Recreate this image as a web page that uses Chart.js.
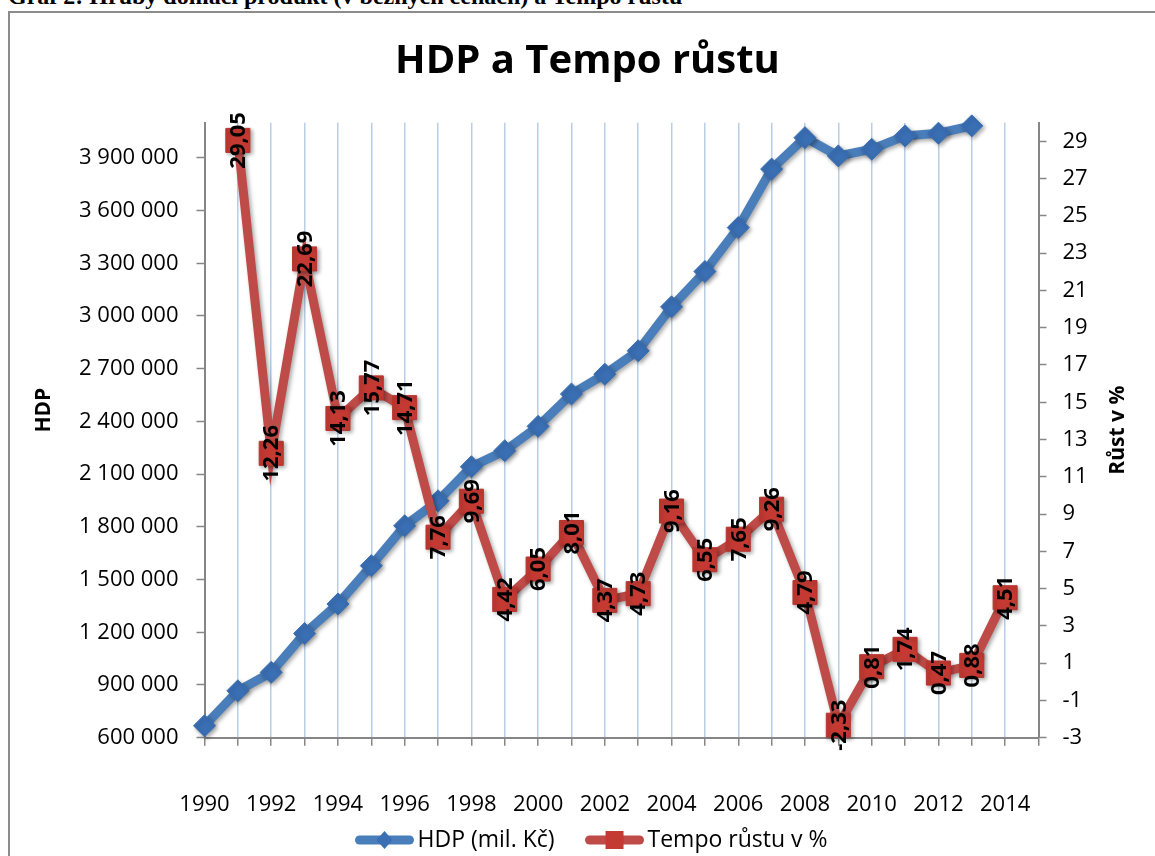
<!DOCTYPE html>
<html><head><meta charset="utf-8">
<script src="https://cdn.jsdelivr.net/npm/chart.js@4.4.0/dist/chart.umd.min.js"></script>
<style>
html,body{margin:0;padding:0;background:#fff;overflow:hidden;width:1155px;height:856px;}
#cap{position:absolute;left:8px;top:-17px;font:bold 24px "Liberation Serif","Times New Roman",serif;white-space:nowrap;color:#000;line-height:27px;}
#frame{position:absolute;left:8px;top:11px;width:1200px;height:900px;border-left:2px solid #8c8c8c;border-top:2px solid #8c8c8c;}
#wrap{position:absolute;left:0;top:0;width:1155px;height:856px;}
</style></head><body>
<div id="cap">Graf 2: Hrubý domácí produkt (v běžných cenách) a Tempo růstu</div>
<div id="frame"></div>
<div id="wrap"><canvas id="c" width="1155" height="856"></canvas></div>
<script>
// ---- data ----
const hdpYears = [1990,1991,1992,1993,1994,1995,1996,1997,1998,1999,2000,2001,2002,2003,2004,2005,2006,2007,2008,2009,2010,2011,2012,2013];
const hdpValues = [668000,867000,972000,1193000,1361000,1579000,1806000,1948000,2142000,2233000,2372000,2556000,2669000,2802000,3052000,3253000,3503000,3836000,4015000,3911000,3949000,4025000,4040000,4082000];
const tempoYears = [1991,1992,1993,1994,1995,1996,1997,1998,1999,2000,2001,2002,2003,2004,2005,2006,2007,2008,2009,2010,2011,2012,2013,2014];
const tempoValues = [29.05,12.26,22.69,14.13,15.77,14.71,7.76,9.69,4.42,6.05,8.01,4.37,4.73,9.16,6.55,7.65,9.26,4.79,-2.33,0.81,1.74,0.47,0.88,4.51];
const xTicks = [1990,1991,1992,1993,1994,1995,1996,1997,1998,1999,2000,2001,2002,2003,2004,2005,2006,2007,2008,2009,2010,2011,2012,2013,2014,2015];
const xLabelYears = [1990,1992,1994,1996,1998,2000,2002,2004,2006,2008,2010,2012,2014];
const leftTicks = [600000,900000,1200000,1500000,1800000,2100000,2400000,2700000,3000000,3300000,3600000,3900000];
const rightTicks = [-3,-1,1,3,5,7,9,11,13,15,17,19,21,23,25,27,29];
const seriesNames = ['HDP (mil. Kč)','Tempo růstu v %'];
const chartTitle = 'HDP a Tempo růstu';
const leftTitle = 'HDP';
const rightTitle = 'Růst v %';

const FONT = '"Open Sans", "DejaVu Sans", sans-serif';
const GREY = '#868686';
const fmtThousands = v => String(v).replace(/\B(?=(\d{3})+(?!\d))/g, ' ');
const fmtPct = v => v.toFixed(2).replace('.', ',');

const shadowPlugin = {
  id: 'shadow',
  beforeDatasetDraw(chart) {
    const c = chart.ctx; c.save();
    c.shadowColor = 'rgba(0,0,0,0.35)'; c.shadowBlur = 4; c.shadowOffsetX = 2; c.shadowOffsetY = 2;
  },
  afterDatasetDraw(chart) { chart.ctx.restore(); }
};

const labelsPlugin = {
  id: 'pctLabels',
  afterDatasetsDraw(chart) {
    const ctx = chart.ctx;
    const meta = chart.getDatasetMeta(1);
    ctx.save();
    ctx.font = 'bold 22px ' + FONT;
    ctx.fillStyle = '#000';
    ctx.textAlign = 'center';
    ctx.textBaseline = 'middle';
    meta.data.forEach((pt, i) => {
      ctx.save();
      ctx.translate(pt.x, pt.y);
      ctx.rotate(-Math.PI / 2);
      ctx.fillText(fmtPct(tempoValues[i]), 0, 1);
      ctx.restore();
    });
    ctx.restore();
  }
};

const axisTitlesPlugin = {
  id: 'axisTitles',
  afterDraw(chart) {
    const ctx = chart.ctx, a = chart.chartArea;
    ctx.save();
    ctx.font = 'bold 21px ' + FONT;
    ctx.fillStyle = '#000';
    ctx.textAlign = 'center';
    ctx.textBaseline = 'middle';
    ctx.save(); ctx.translate(44, (a.top + a.bottom) / 2 - 20); ctx.rotate(-Math.PI / 2); ctx.fillText(leftTitle, 0, 0); ctx.restore();
    ctx.save(); ctx.translate(1118, (a.top + a.bottom) / 2); ctx.rotate(-Math.PI / 2); ctx.fillText(rightTitle, 0, 0); ctx.restore();
    ctx.restore();
  }
};

const legendPlugin = {
  id: 'customLegend',
  afterDraw(chart) {
    const ctx = chart.ctx;
    ctx.save();
    ctx.font = '23px ' + FONT;
    const ds = chart.data.datasets;
    const lineW = 60, gapT = 3, gapI = 30;
    const widths = ds.map(d => lineW + gapT + ctx.measureText(d.label).width);
    const total = widths.reduce((p, q) => p + q, 0) + gapI * (ds.length - 1);
    let x = 591 - total / 2;
    const y = 840;
    ds.forEach((d, i) => {
      ctx.strokeStyle = d.borderColor; ctx.lineWidth = 9; ctx.lineCap = 'round';
      ctx.beginPath(); ctx.moveTo(x + 5, y); ctx.lineTo(x + lineW - 5, y); ctx.stroke();
      ctx.fillStyle = d.pointBackgroundColor;
      const cx = x + lineW / 2;
      ctx.beginPath();
      if (d.pointStyle === 'rectRot') {
        ctx.moveTo(cx, y - 9); ctx.lineTo(cx + 8, y); ctx.lineTo(cx, y + 9); ctx.lineTo(cx - 8, y); ctx.closePath();
      } else {
        ctx.rect(cx - 9, y - 9, 18, 18);
      }
      ctx.fill();
      ctx.fillStyle = '#000'; ctx.textAlign = 'left'; ctx.textBaseline = 'middle';
      ctx.fillText(d.label, x + lineW + gapT, y);
      x += widths[i] + gapI;
    });
    ctx.restore();
  }
};

new Chart(document.getElementById('c'), {
  type: 'line',
  data: {
    datasets: [
      {
        label: seriesNames[0],
        data: hdpYears.map((yr, i) => ({x: yr, y: hdpValues[i]})),
        yAxisID: 'y',
        borderColor: '#4a7ebb',
        borderWidth: 9,
        pointStyle: 'rectRot',
        pointRadius: 11,
        pointBackgroundColor: '#3a6fb4',
        pointBorderColor: '#3a6fb4',
        pointBorderWidth: 1,
        tension: 0,
        clip: false,
        order: 1
      },
      {
        label: seriesNames[1],
        data: tempoYears.map((yr, i) => ({x: yr, y: tempoValues[i]})),
        yAxisID: 'y1',
        borderColor: '#be4b48',
        borderWidth: 9,
        pointStyle: 'rect',
        pointRadius: 17,
        pointBackgroundColor: '#c43a33',
        pointBorderColor: '#b8352f',
        pointBorderWidth: 1,
        tension: 0,
        clip: false,
        order: 0
      }
    ]
  },
  options: {
    responsive: false,
    animation: false,
    layout: {padding: {left: 20, right: 0, top: 0, bottom: 0}},
    plugins: {
      legend: {display: false},
      tooltip: {enabled: false},
      title: {
        display: true,
        text: chartTitle,
        color: '#000',
        font: {family: FONT, size: 40, weight: 'bold', lineHeight: 1.2},
        padding: {top: 38, bottom: 36.7}
      }
    },
    scales: {
      x: {
        type: 'linear',
        min: 1990, max: 2015,
        afterBuildTicks: s => { s.ticks = xTicks.map(v => ({value: v})); },
        afterFit: s => { s.height = 856 - 737.7; },
        ticks: {
          callback: v => xLabelYears.includes(v) ? String(v) : '',
          color: '#000', font: {family: FONT, size: 22}, padding: 46,
          autoSkip: false, maxRotation: 0, minRotation: 0
        },
        grid: {color: '#b9cde5', lineWidth: 1.5, tickLength: 8, tickColor: GREY, tickWidth: 1.5},
        border: {color: GREY, width: 2}
      },
      y: {
        position: 'left',
        min: 600000, max: 4100000,
        afterBuildTicks: s => { s.ticks = leftTicks.map(v => ({value: v})); },
        afterFit: s => { s.width = 204.5 - 20; },
        ticks: {callback: v => fmtThousands(v), color: '#000', font: {family: FONT, size: 22}, padding: 18},
        grid: {drawOnChartArea: false, tickLength: 8, color: GREY, tickColor: GREY, tickWidth: 1.5},
        border: {color: GREY, width: 2}
      },
      y1: {
        position: 'right',
        min: -3, max: 30,
        afterBuildTicks: s => { s.ticks = rightTicks.map(v => ({value: v})); },
        afterFit: s => { s.width = 1155 - 1038.5; },
        ticks: {callback: v => String(v), color: '#000', font: {family: FONT, size: 22}, padding: 16},
        grid: {drawOnChartArea: false, tickLength: 8, color: GREY, tickColor: GREY, tickWidth: 1.5},
        border: {color: GREY, width: 2}
      }
    }
  },
  plugins: [shadowPlugin, labelsPlugin, axisTitlesPlugin, legendPlugin]
});
</script>
</body></html>
